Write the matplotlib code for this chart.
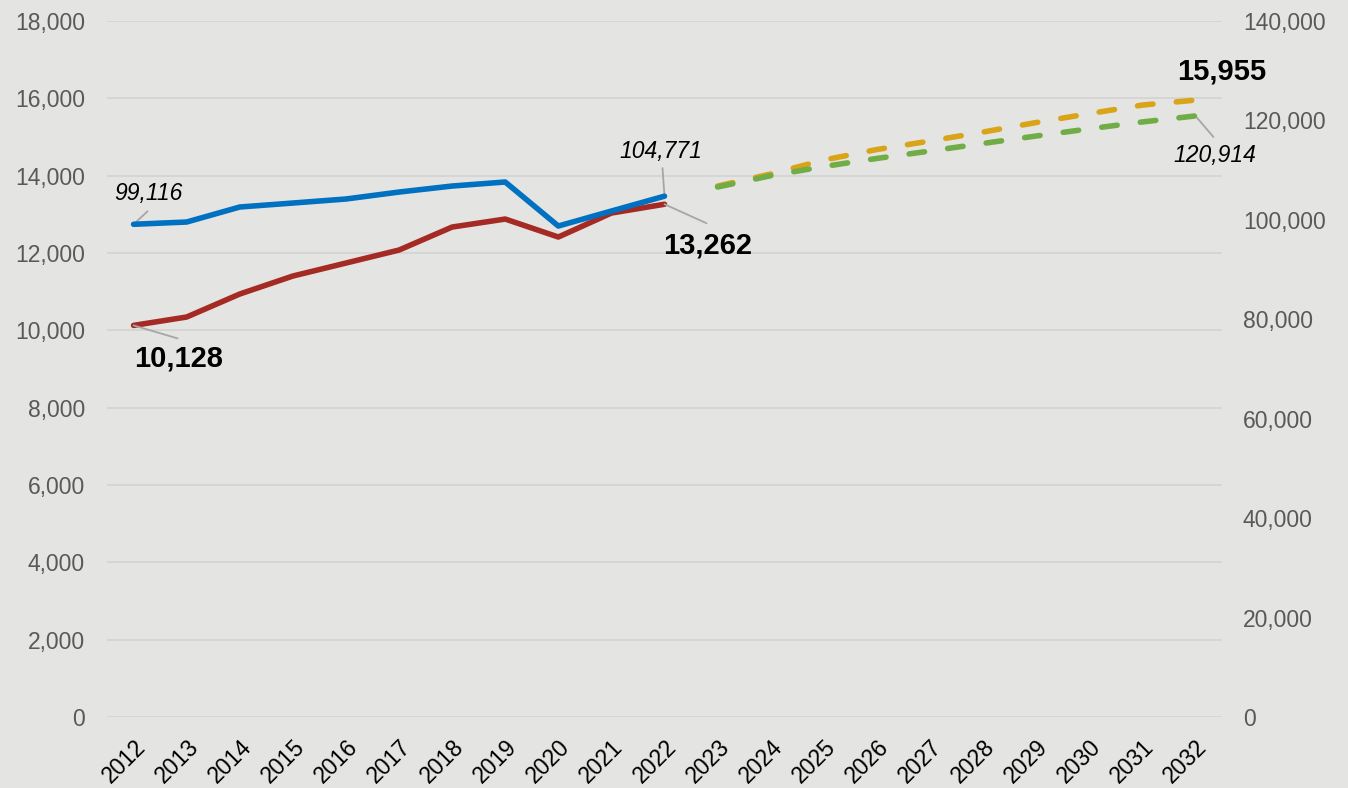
import matplotlib
matplotlib.use("Agg")
import matplotlib.pyplot as plt
import matplotlib.transforms as mtransforms
from matplotlib.ticker import FuncFormatter

plt.rcParams['font.family'] = ['Liberation Sans', 'DejaVu Sans']

years = [str(y) for y in range(2012, 2033)]
hist_years = years[:11]
proj_years = years[11:]

# left axis (red actual, orange projection)
red_vals = [10128, 10345, 10940, 11405, 11741, 12077, 12672, 12879, 12414, 13034, 13262]
orange_vals = [13733, 14043, 14405, 14677, 14897, 15129, 15375, 15605, 15827, 15955]

# right axis (blue actual, green projection)
blue_vals = [99116, 99570, 102590, 103390, 104200, 105600, 106810, 107620, 98765, 101780, 104771]
green_vals = [106610, 108880, 110730, 112360, 113850, 115380, 116870, 118320, 119700, 120914]

left_ticks = list(range(0, 18001, 2000))
right_ticks = list(range(0, 140001, 20000))

bg = '#E4E4E2'
fig = plt.figure(figsize=(13.48, 7.88), dpi=100, facecolor=bg)
ax = fig.add_axes([0.0794, 0.0901, 0.8271, 0.8832], facecolor=bg)
ax2 = ax.twinx()

x_hist = list(range(len(hist_years)))
x_proj = list(range(len(hist_years), len(years)))

ax.plot(x_hist, red_vals, color='#A52A24', lw=4, solid_capstyle='round',
        solid_joinstyle='round', zorder=3)
ax.plot(x_proj, orange_vals, color='#D9A418', lw=4, dashes=(2.8, 4.2),
        dash_capstyle='round', zorder=3)
ax2.plot(x_hist, blue_vals, color='#0070C0', lw=4, solid_capstyle='round',
         solid_joinstyle='round', zorder=4)
ax2.plot(x_proj, green_vals, color='#70AD47', lw=4, dashes=(2.8, 4.2),
         dash_capstyle='round', zorder=4)

ax.set_xlim(-0.5, len(years) - 0.5)
ax.set_ylim(0, 18000)
ax2.set_ylim(0, 140000)
ax.set_xticks(range(len(years)))
ax.set_xticklabels(years, rotation=45, ha='right', rotation_mode='anchor')
shift = mtransforms.ScaledTranslation(-4 / 100, 0, fig.dpi_scale_trans)
for lab in ax.get_xticklabels():
    lab.set_transform(lab.get_transform() + shift)
ax.set_yticks(left_ticks)
ax2.set_yticks(right_ticks)
fmt = FuncFormatter(lambda v, p: f"{int(v):,}")
ax.yaxis.set_major_formatter(fmt)
ax2.yaxis.set_major_formatter(fmt)
ax.grid(axis='y', color='#D2D2D0', lw=1.2)
ax.set_axisbelow(True)

for a in (ax, ax2):
    for s in a.spines.values():
        s.set_visible(False)
    a.tick_params(length=0)
ax.tick_params(axis='y', labelsize=16.5, labelcolor='#595959', pad=16)
ax2.tick_params(axis='y', labelsize=16.5, labelcolor='#595959', pad=15)
ax.tick_params(axis='x', labelsize=16.5, labelcolor='black', pad=13)

lead = dict(arrowstyle='-', color='#A6A6A6', lw=1.3, shrinkA=0, shrinkB=0)
off = 'offset pixels'

# 2012 labels
ax2.annotate("", xy=(0, blue_vals[0]), xytext=(14, 13), textcoords=off, arrowprops=lead)
ax2.annotate(f"{blue_vals[0]:,}", xy=(0, blue_vals[0]), xytext=(15, 31),
             textcoords=off, ha='center', va='center', fontsize=16.5, style='italic')
ax.annotate("", xy=(0, red_vals[0]), xytext=(44, -13), textcoords=off, arrowprops=lead)
ax.annotate(f"{red_vals[0]:,}", xy=(0, red_vals[0]), xytext=(45, -33),
            textcoords=off, ha='center', va='center', fontsize=21, weight='bold')

# 2022 labels
ax2.annotate("", xy=(10, blue_vals[-1]), xytext=(-2, 28), textcoords=off, arrowprops=lead)
ax2.annotate(f"{blue_vals[-1]:,}", xy=(10, blue_vals[-1]), xytext=(-4, 45),
             textcoords=off, ha='center', va='center', fontsize=16.5, style='italic')
ax.annotate("", xy=(10, red_vals[-1]), xytext=(42, -19), textcoords=off, arrowprops=lead)
ax.annotate(f"{red_vals[-1]:,}", xy=(10, red_vals[-1]), xytext=(43, -41),
            textcoords=off, ha='center', va='center', fontsize=21, weight='bold')

# 2032 labels
ax.annotate(f"{orange_vals[-1]:,}", xy=(20, orange_vals[-1]), xytext=(26, 29),
            textcoords=off, ha='center', va='center', fontsize=21, weight='bold')
ax2.annotate("", xy=(20, green_vals[-1]), xytext=(18, -21), textcoords=off, arrowprops=lead)
ax2.annotate(f"{green_vals[-1]:,}", xy=(20, green_vals[-1]), xytext=(19, -40),
             textcoords=off, ha='center', va='center', fontsize=16.5, style='italic')

fig.savefig('out.png', dpi=100, facecolor=bg)
